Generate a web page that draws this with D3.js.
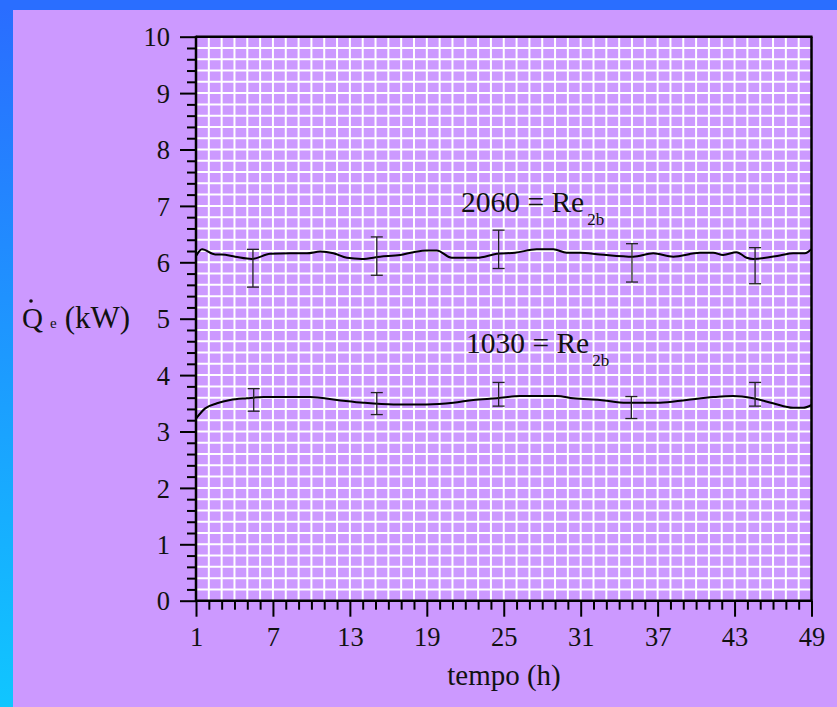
<!DOCTYPE html>
<html>
<head>
<meta charset="utf-8">
<script src="https://cdn.jsdelivr.net/npm/d3@7/dist/d3.min.js"></script>
<style>
  html, body { margin: 0; padding: 0; }
  svg { display: block; }
  text { font-family: "Liberation Serif", "Times New Roman", serif; fill: #111; }
</style>
</head>
<body>
<svg id="chart" width="837" height="707"></svg>
<script>
// Heat rate Q̇e (kW) over time (h) for two Reynolds numbers
const xTicks = [1, 7, 13, 19, 25, 31, 37, 43, 49];
const yTicks = [0, 1, 2, 3, 4, 5, 6, 7, 8, 9, 10];

// Re2b = 2060
const hoursHigh = [1.0, 1.47, 2.5, 3.0, 4.06, 5.36, 6.79, 8.35, 9.65, 10.69, 11.72, 12.77, 13.94, 15.36, 16.92, 17.96, 19.0, 19.78, 20.95, 22.9, 24.46, 25.88, 27.57, 28.87, 29.91, 30.95, 32.5, 35.1, 36.66, 38.22, 40.3, 41.33, 42.11, 43.16, 43.94, 44.45, 46.53, 47.57, 48.48, 49.0];
const qHigh = [6.11, 6.23, 6.14, 6.14, 6.10, 6.06, 6.15, 6.16, 6.16, 6.19, 6.16, 6.08, 6.06, 6.10, 6.13, 6.18, 6.21, 6.21, 6.08, 6.08, 6.15, 6.17, 6.23, 6.23, 6.17, 6.17, 6.14, 6.10, 6.16, 6.10, 6.17, 6.17, 6.13, 6.18, 6.08, 6.06, 6.12, 6.16, 6.16, 6.23];

// Re2b = 1030
const hoursLow = [1.0, 1.72, 2.64, 3.67, 4.97, 6.27, 9.91, 11.99, 14.06, 16.4, 19.0, 21.07, 22.63, 24.46, 26.27, 29.13, 30.42, 32.5, 34.58, 37.18, 39.26, 41.33, 42.89, 44.45, 46.0, 47.57, 48.35, 49.0];
const qLow = [3.23, 3.41, 3.50, 3.56, 3.59, 3.61, 3.61, 3.56, 3.51, 3.48, 3.48, 3.51, 3.56, 3.59, 3.63, 3.63, 3.59, 3.56, 3.51, 3.51, 3.56, 3.61, 3.63, 3.59, 3.50, 3.42, 3.42, 3.47];

// Uncertainty bars
const errHoursHigh = [5.44, 15.1, 24.6, 35.0, 44.6];
const errHighTop = [6.23, 6.45, 6.57, 6.33, 6.26];
const errHighBottom = [5.56, 5.77, 5.89, 5.65, 5.62];
const errHoursLow = [5.5, 15.1, 24.6, 34.95, 44.6];
const errLowTop = [3.76, 3.69, 3.87, 3.62, 3.87];
const errLowBottom = [3.36, 3.30, 3.45, 3.23, 3.45];

const svg = d3.select("#chart");
const W = 837, H = 707;

// Backdrop: blue frame strips and lilac panel
const defs = svg.append("defs");
const grad = defs.append("linearGradient").attr("id", "sideGrad")
  .attr("x1", 0).attr("y1", 0).attr("x2", 0).attr("y2", 1);
grad.append("stop").attr("offset", "0%").attr("stop-color", "#2a6cff");
grad.append("stop").attr("offset", "100%").attr("stop-color", "#10c6ff");
svg.append("rect").attr("width", W).attr("height", H).attr("fill", "#cc99ff");
svg.append("rect").attr("x", 0).attr("y", 0).attr("width", 13).attr("height", H).attr("fill", "url(#sideGrad)");
svg.append("rect").attr("x", 0).attr("y", 0).attr("width", W).attr("height", 10).attr("fill", "#2a6eff");

const x = d3.scaleLinear().domain([1, 49]).range([196, 811.5]);
const y = d3.scaleLinear().domain([0, 10]).range([600.7, 36.7]);

// White grid: every hour, every 0.2 kW
const grid = svg.append("g").attr("stroke", "#fff").attr("stroke-width", 2);
grid.selectAll("line.v").data(d3.range(2, 49)).join("line")
  .attr("x1", d => x(d)).attr("x2", d => x(d))
  .attr("y1", y(0)).attr("y2", y(10));
grid.selectAll("line.h").data(d3.range(1, 50).map(i => i * 0.2)).join("line")
  .attr("x1", x(1)).attr("x2", x(49))
  .attr("y1", d => y(d)).attr("y2", d => y(d));

// Axes
const minorY = d3.range(0, 51).map(i => +(i * 0.2).toFixed(1)).filter(v => Math.abs(v - Math.round(v)) > 1e-6);
const minorX = d3.range(1, 50).filter(v => !xTicks.includes(v));

function styleAxis(g) {
  g.select(".domain").remove();
  g.selectAll("line").attr("stroke", "#000").attr("stroke-width", 2);
  g.selectAll("text").style("font-family", "'Liberation Serif', serif").style("font-size", "26.5px").attr("fill", "#111");
}

svg.append("g").attr("transform", `translate(${x(1)},0)`)
  .call(d3.axisLeft(y).tickValues(minorY).tickSize(9).tickFormat(""))
  .call(styleAxis);
svg.append("g").attr("transform", `translate(${x(1)},0)`)
  .call(d3.axisLeft(y).tickValues(yTicks).tickSize(16).tickPadding(10).tickFormat(d3.format("d")))
  .call(styleAxis)
  .selectAll("text").attr("dy", "0.35em");

svg.append("g").attr("transform", `translate(0,${y(0)})`)
  .call(d3.axisBottom(x).tickValues(minorX).tickSize(9).tickFormat(""))
  .call(styleAxis);
svg.append("g").attr("transform", `translate(0,${y(0)})`)
  .call(d3.axisBottom(x).tickValues(xTicks).tickSize(16).tickPadding(8).tickFormat(d3.format("d")))
  .call(styleAxis)
  .selectAll("text").attr("dy", "0.8em");

// Frame lines
const frame = svg.append("g").attr("stroke", "#000").attr("stroke-width", 2.5).attr("fill", "none");
frame.append("line").attr("x1", x(1)).attr("x2", x(1)).attr("y1", y(0) + 1).attr("y2", y(10) - 1);
frame.append("line").attr("x1", x(1)).attr("x2", x(49) + 1).attr("y1", y(10)).attr("y2", y(10));
frame.append("line").attr("x1", x(49)).attr("x2", x(49)).attr("y1", y(10)).attr("y2", y(0));
frame.append("line").attr("x1", x(1)).attr("x2", x(49) + 1).attr("y1", y(0)).attr("y2", y(0));

// Data curves
const line = d3.line().x(d => x(d[0])).y(d => y(d[1])).curve(d3.curveMonotoneX);
svg.append("path").datum(d3.zip(hoursHigh, qHigh)).attr("d", line)
  .attr("fill", "none").attr("stroke", "#000").attr("stroke-width", 2);
svg.append("path").datum(d3.zip(hoursLow, qLow)).attr("d", line)
  .attr("fill", "none").attr("stroke", "#000").attr("stroke-width", 2);

// Error bars
function errorBars(hs, tops, bottoms) {
  const g = svg.append("g").attr("stroke", "#222").attr("stroke-width", 1.3);
  hs.forEach((h, i) => {
    const cx = x(h);
    g.append("line").attr("x1", cx).attr("x2", cx).attr("y1", y(tops[i])).attr("y2", y(bottoms[i]));
    g.append("line").attr("x1", cx - 6).attr("x2", cx + 6).attr("y1", y(tops[i])).attr("y2", y(tops[i]));
    g.append("line").attr("x1", cx - 6).attr("x2", cx + 6).attr("y1", y(bottoms[i])).attr("y2", y(bottoms[i]));
  });
}
errorBars(errHoursHigh, errHighTop, errHighBottom);
errorBars(errHoursLow, errLowTop, errLowBottom);

// Curve labels
function reLabel(tx, ty, num) {
  const t = svg.append("text").attr("x", tx).attr("y", ty).style("font-size", "29.5px");
  t.append("tspan").text(num + " = Re");
  t.append("tspan").attr("dy", 13).attr("dx", 3).style("font-size", "17px").text("2b");
}
reLabel(461, 212, "2060");
reLabel(466, 353, "1030");

// Axis titles
svg.append("text").attr("x", 504).attr("y", 685).attr("text-anchor", "middle")
  .style("font-size", "29px").text("tempo (h)");

const yt = svg.append("text").attr("x", 22).attr("y", 328).style("font-size", "29px");
yt.append("tspan").text("Q");
yt.append("tspan").attr("dx", 7).style("font-size", "15px").text("e");
yt.append("tspan").attr("dx", 8).style("font-size", "31px").text("(kW)");
// dot accent over Q (time derivative)
svg.append("circle").attr("cx", 31).attr("cy", 301).attr("r", 1.8).attr("fill", "#111");
</script>
</body>
</html>
